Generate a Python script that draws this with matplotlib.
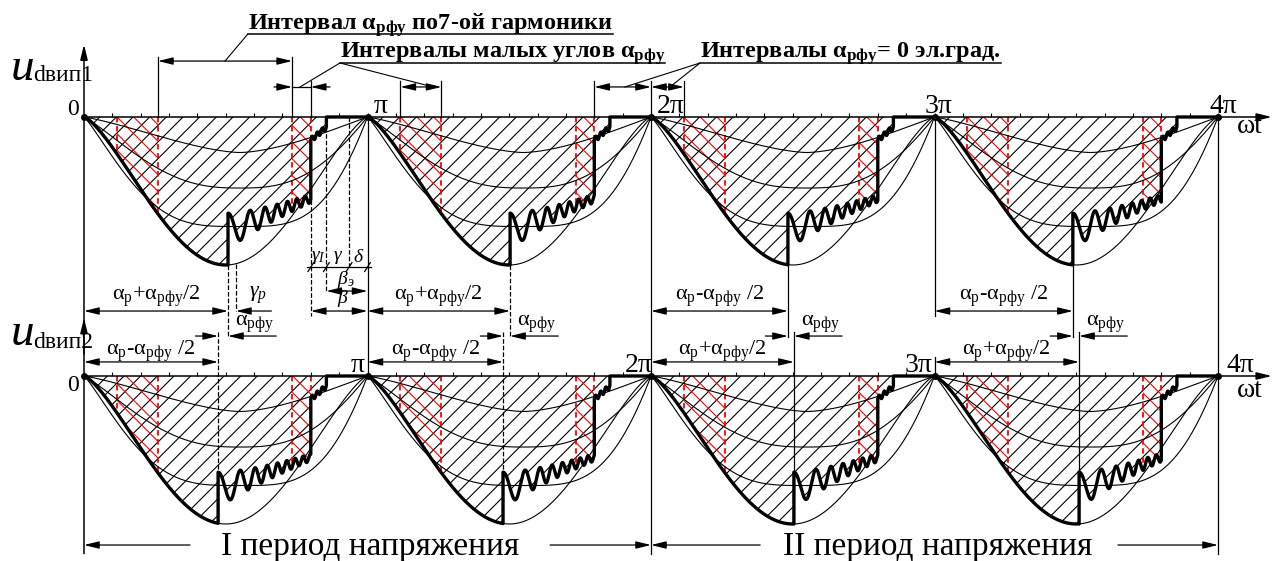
import numpy as np
import matplotlib.pyplot as plt
from matplotlib.patches import Rectangle

plt.rcParams['font.family'] = 'Liberation Serif'
plt.rcParams['mathtext.fontset'] = 'custom'
plt.rcParams['mathtext.rm'] = 'Liberation Serif'
plt.rcParams['mathtext.it'] = 'Liberation Serif:italic'
plt.rcParams['mathtext.bf'] = 'Liberation Serif:bold'
plt.rcParams['hatch.linewidth'] = 0.8

# angles in units of pi, depths relative to the envelope peak
half_starts = [0, 1, 2, 3]
jump_u1 = [0.508, 0.503, 0.483, 0.488]   # alpha_p +/- alpha_rfu/2, trace 1
jump_u2 = [0.473, 0.478, 0.504, 0.510]   # same, trace 2
sign_u1 = ['+', '+', '-', '-']
sign_u2 = ['-', '-', '+', '+']
ring_end = 0.80
step_end = 0.855
delta_start = 0.935
gamma_p = 0.028
band_lo = (0.116, 0.261)
band_hi = (0.734, 0.80)
thin_depths = [0.24, 0.48, 0.74]
thin_flat = [0.8, 1.35, 1.85]
env_power = 1.35
ring_mid = [0.77, 0.55]
ring_amp = 0.12
step_mid = [0.155, 0.07]
pi_labels = ['0', 'π', '2π', '3π', '4π']
offset2 = -1.75

PLUS = 'α$_\\mathrm{р}$+α$_\\mathrm{рфу}$/2'
MINUS = 'α$_\\mathrm{р}$-α$_\\mathrm{рфу}$ /2'
AFU = 'α$_\\mathrm{рфу}$'

fig = plt.figure(figsize=(12.73, 5.61), dpi=100)
ax = fig.add_axes([0, 0, 1, 1])
ax.set_xlim(-0.2963, 4.194)
ax.set_ylim(-3.0, 0.7905)
ax.axis('off')

ARW = ',head_length=0.9,head_width=0.22'


def arrow(xa, ya, xb, yb, style='<|-|>', lw=0.9):
    ax.annotate('', xy=(xb, yb), xytext=(xa, ya),
                arrowprops=dict(arrowstyle=style + ARW, lw=lw, color='k',
                                shrinkA=0, shrinkB=0))


def envelope(t):
    return np.sin(np.pi * t) ** env_power


def thin_curve(t, d, m):
    s = t ** 1.16
    return d * (1 - (1 - np.sin(np.pi * s)) ** m)


def waveform(tj):
    t1 = np.linspace(0, tj, 120)
    d1 = envelope(t1)
    t2 = np.linspace(tj, ring_end, 500)
    tt = t2 - tj
    mid = ring_mid[0] + (ring_mid[1] - ring_mid[0]) * tt / (ring_end - tj)
    d2 = mid - ring_amp * np.exp(-tt / 0.2) * np.cos(2 * np.pi * (tt / 0.11 + tt ** 2 / 0.021))
    t3 = np.linspace(ring_end, step_end, 120)
    u = t3 - ring_end
    mid3 = step_mid[0] + (step_mid[1] - step_mid[0]) * u / (step_end - ring_end)
    d3 = mid3 - 0.018 * np.sin(2 * np.pi * u / 0.018)
    t = np.concatenate([t1, t2, t3, [step_end, 1.0]])
    d = np.concatenate([d1, d2, d3, [0, 0]])
    return t, d


def draw_half(x0, y0, tj):
    t, d = waveform(tj)
    ax.fill_between(x0 + t, y0, y0 - d, facecolor='none', edgecolor='k',
                    hatch='//', lw=0, zorder=1)
    for a, b in (band_lo, band_hi):
        red = ax.fill_between(x0 + t, y0, y0 - d, facecolor='none', edgecolor='red',
                              hatch='\\\\', lw=0, zorder=1)
        red.set_clip_path(Rectangle((x0 + a, y0 - 1.2), b - a, 1.25, transform=ax.transData))
        for e in (a, b - 1e-3):
            ax.plot([x0 + e, x0 + e], [y0, y0 - np.interp(e, t, d)], color='red',
                    ls=(0, (3, 2)), lw=1.3, zorder=2)
    tc = np.linspace(0, 1, 300)
    for dep, m in zip(thin_depths, thin_flat):
        ax.plot(x0 + tc, y0 - thin_curve(tc, dep, m), 'k', lw=0.8, zorder=3)
    te = np.linspace(tj, 1, 150)
    ax.plot(x0 + te, y0 - envelope(te), 'k', lw=0.8, zorder=3)
    ax.plot(x0 + t, y0 - d, 'k', lw=2.4, zorder=4)


for k, x0 in enumerate(half_starts):
    draw_half(x0, 0, jump_u1[k])
    draw_half(x0, offset2, jump_u2[k])

# axes, baselines, ticks
for y0 in (0, offset2):
    arrow(0, y0, 4.19, y0, '-|>', lw=1.1)
    ax.vlines(np.arange(1, 41) / 10, y0, y0 + 0.025, color='k', lw=0.8)
    ax.plot(half_starts + [4], [y0] * 5, 'ko', ms=4, zorder=5)
arrow(0, -2.95, 0, 0.49, '-|>', lw=1.1)
arrow(0, -1.6, 0, -1.358, '-|>', lw=1.1)
ax.plot([1, 1], [0, offset2], 'k', lw=0.9)
ax.plot([2, 2], [0.24, -2.95], 'k', lw=0.9)
ax.plot([3, 3], [0, -1.345], 'k', lw=0.9)
ax.plot([3, 3], [-1.62, offset2], 'k', lw=0.9)
ax.plot([4, 4], [0, -2.95], 'k', lw=0.9)

# pi labels
fs_pi = 20
ax.text(-0.04, 0.0135, pi_labels[0], fontsize=17, ha='center', va='baseline')
ax.text(-0.04, -1.85, pi_labels[0], fontsize=17, ha='center', va='baseline')
ax.text(1.048, 0.027, pi_labels[1], fontsize=fs_pi, ha='center', va='baseline')
ax.text(2.07, 0.027, pi_labels[2], fontsize=fs_pi, ha='center', va='baseline')
ax.text(3.013, 0.027, pi_labels[3], fontsize=fs_pi, ha='center', va='baseline')
ax.text(4.018, 0.027, pi_labels[4], fontsize=fs_pi, ha='center', va='baseline')
ax.text(0.967, -1.723, pi_labels[1], fontsize=fs_pi, ha='center', va='baseline')
ax.text(1.955, -1.723, pi_labels[2], fontsize=fs_pi, ha='center', va='baseline')
ax.text(2.945, -1.723, pi_labels[3], fontsize=fs_pi, ha='center', va='baseline')
ax.text(4.08, -1.723, pi_labels[4], fontsize=fs_pi, ha='center', va='baseline')
ax.text(4.113, -0.108, 'ωt', fontsize=fs_pi, ha='center', va='baseline')
ax.text(4.113, -1.89, 'ωt', fontsize=fs_pi, ha='center', va='baseline')

# u labels
ax.text(-0.258, 0.25, 'u', fontsize=34, style='italic', va='baseline')
ax.text(-0.18, 0.245, 'dвип1', fontsize=17, va='baseline')
ax.text(-0.258, -1.54, 'u', fontsize=34, style='italic', va='baseline')
ax.text(-0.18, -1.56, 'dвип2', fontsize=17, va='baseline')

# dimension rows between the traces
row1, row2, row3 = -1.311, -1.48, -1.655
lab1, lab2, lab3 = -1.236, -1.412, -1.608
fs_d = 16
for k, x0 in enumerate(half_starts):
    j1, j2 = jump_u1[k], jump_u2[k]
    ls = '--' if k < 2 else '-'
    ax.plot([x0 + j1, x0 + j1], [-envelope(j1), -1.486], 'k', ls=ls, lw=0.9)
    ax.plot([x0 + j2, x0 + j2], [-1.453, offset2 - envelope(j2)], 'k', ls=ls, lw=0.9)
    arrow(x0, row1, x0 + j1, row1)
    ax.text(x0 + j1 / 2, lab1, PLUS if sign_u1[k] == '+' else MINUS,
            fontsize=fs_d, ha='center', va='baseline')
    arrow(x0, row3, x0 + j2, row3)
    ax.text(x0 + j2 / 2, lab3, PLUS if sign_u2[k] == '+' else MINUS,
            fontsize=fs_d, ha='center', va='baseline')
    jmin, jmax = min(j1, j2), max(j1, j2)
    arrow(x0 + jmin - 0.08, row2, x0 + jmin, row2, '-|>')
    arrow(x0 + jmax + 0.17, row2, x0 + jmax, row2, '-|>')
    ax.text(x0 + jmax + 0.025, lab2, AFU, fontsize=fs_d, ha='left', va='baseline')

# gamma / beta details of the first half-wave
j1 = jump_u1[0]
ax.plot([j1 + gamma_p] * 2, [-envelope(j1 + gamma_p), row1], 'k--', lw=0.9)
arrow(j1 + gamma_p + 0.125, row1, j1 + gamma_p, row1, '-|>')
ax.text(j1 + gamma_p + 0.078, -1.216, '$\\gamma_p$', fontsize=fs_d, ha='center', va='baseline')

t0, d0 = waveform(j1)
yg = -1.014
ax.plot([ring_end] * 2, [-np.interp(ring_end - 1e-3, t0, d0), -1.345], 'k--', lw=0.9)
ax.plot([step_end] * 2, [-step_mid[1], -1.18], 'k--', lw=0.9)
ax.plot([delta_start] * 2, [0, -1.03], 'k--', lw=0.9)
ax.plot([ring_end - 0.012, 1.012], [yg, yg], 'k', lw=0.9)
for xt in (ring_end, step_end, delta_start, 1.0):
    ax.plot([xt - 0.01, xt + 0.01], [yg - 0.03, yg + 0.03], 'k', lw=0.9)
ax.text((ring_end + step_end) / 2, yg + 0.01, '$\\gamma_I$', fontsize=14, ha='center', va='bottom')
ax.text((step_end + delta_start) / 2, yg + 0.01, '$\\gamma$', fontsize=14, ha='center', va='bottom')
ax.text((delta_start + 1) / 2, yg + 0.01, '$\\delta$', fontsize=14, ha='center', va='bottom')
arrow(step_end, -1.176, 1.0, -1.176)
ax.text(0.925, -1.17, '$\\beta_э$', fontsize=14, ha='center', va='bottom')
arrow(ring_end, row1, 1.0, row1)
ax.text(0.914, -1.30, '$\\beta$', fontsize=14, ha='center', va='bottom')

# top annotations
ya, ys = 0.378, 0.203
for xv in (band_lo[1], band_hi[0]):
    ax.plot([xv, xv], [0, 0.405], 'k', lw=0.9)
arrow(band_lo[1], ya, band_hi[0], ya)
for xv in (band_hi[1], 1 + band_lo[0], 1 + band_lo[1], 1 + ring_end, 2 + band_lo[0]):
    ax.plot([xv, xv], [0, 0.24], 'k', lw=0.9)
ax.plot([band_hi[0], band_hi[1]], [ys, ys], 'k', lw=0.9)
arrow(band_hi[0] - 0.064, ys, band_hi[0], ys, '-|>')
arrow(band_hi[1] + 0.068, ys, band_hi[1], ys, '-|>')
arrow(1 + band_lo[0], ys, 1 + band_lo[1], ys)
arrow(1 + ring_end, ys, 2, ys)
arrow(2, ys, 2 + band_lo[0], ys)

fs_b = 17.5


def underlined(x, y, yu, s):
    txt = ax.text(x, y, s, fontsize=fs_b, fontweight='bold', ha='left', va='baseline')
    fig.canvas.draw()
    bb = txt.get_window_extent().transformed(ax.transData.inverted())
    ax.plot([bb.x0, bb.x1], [yu, yu], 'k', lw=1.1)


underlined(0.578, 0.588, 0.561, 'Интервал α$_\\mathbf{рфу}$ по7-ой гармоники')
ax.plot([(band_lo[1] + band_hi[0]) / 2, 0.578], [ya, 0.561], 'k', lw=0.8)
underlined(0.903, 0.399, 0.365, 'Интервалы малых углов α$_\\mathbf{рфу}$')
ax.plot([0.762, 0.903, 1.231], [ys, 0.365, ys], 'k', lw=0.8)
underlined(2.173, 0.399, 0.365, 'Интервалы α$_\\mathbf{рфу}$= 0 эл.град.')
ax.plot([1.908, 2.173, 2.067], [ys, 0.365, ys], 'k', lw=0.8)

# period captions
yp = -2.892
arrow(0.374, yp, 0, yp, '-|>')
arrow(1.644, yp, 2, yp, '-|>')
arrow(2.385, yp, 2, yp, '-|>')
arrow(3.647, yp, 4, yp, '-|>')
ax.text(1.008, -2.96, 'I период напряжения', fontsize=24, ha='center', va='baseline')
ax.text(3.01, -2.96, 'II период напряжения', fontsize=24, ha='center', va='baseline')

fig.savefig('out.png', dpi=100)
